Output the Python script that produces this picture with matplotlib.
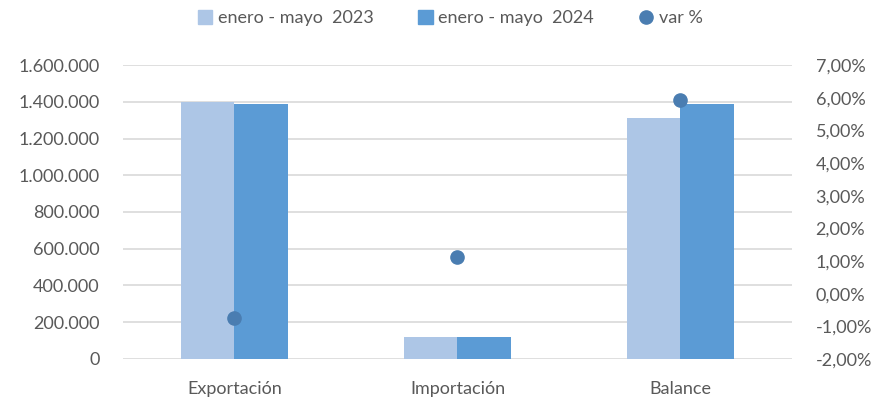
import matplotlib
matplotlib.use("Agg")
from matplotlib import pyplot as plt
from matplotlib.ticker import FuncFormatter
from matplotlib.lines import Line2D
from matplotlib.patches import Patch
import numpy as np

categories = ["Exportación", "Importación", "Balance"]
valores_2023 = [1399000, 121000, 1310000]
valores_2024 = [1386000, 121000, 1386000]
var_pct = [-0.75, 1.11, 5.93]

color_2023 = "#adc6e6"
color_2024 = "#5b9bd5"
color_var = "#4a7db1"
text_color = "#595959"

plt.rcParams["font.family"] = ["Lato", "DejaVu Sans"]

fig = plt.figure(figsize=(8.76, 4.03), dpi=100)
ax = fig.add_axes([0.1404, 0.1092, 0.7636, 0.7295])
ax2 = ax.twinx()

x = np.arange(len(categories))
w = 0.24
ax.bar(x - w / 2, valores_2023, w, color=color_2023, zorder=2)
ax.bar(x + w / 2, valores_2024, w, color=color_2024, zorder=2)

ax.set_ylim(0, 1600000)
ax.set_yticks(np.arange(0, 1600001, 200000))
ax.yaxis.set_major_formatter(FuncFormatter(lambda v, p: f"{int(v):,}".replace(",", ".")))
ax.grid(axis="y", color="#d9d9d9", linewidth=1.2, zorder=0)
ax.set_axisbelow(True)
ax.set_xlim(-0.5, 2.5)
ax.set_xticks(x)
ax.set_xticklabels(categories)

ax2.plot(x, var_pct, "o", color=color_var, markersize=9.5, zorder=5)
ax2.set_ylim(-2, 7)
ax2.set_yticks(np.arange(-2, 7.01, 1))
ax2.yaxis.set_major_formatter(FuncFormatter(lambda v, p: f"{v:.2f}%".replace(".", ",")))
ax.set_zorder(1)
ax2.set_zorder(2)
ax.patch.set_visible(False)

for a in (ax, ax2):
    for s in a.spines.values():
        s.set_visible(False)
    a.tick_params(length=0, labelsize=13, colors=text_color)
ax.tick_params(axis="y", pad=17)
ax2.tick_params(axis="y", pad=17)
ax.tick_params(axis="x", pad=16)

handles = [
    Patch(color=color_2023, label="enero - mayo  2023"),
    Patch(color=color_2024, label="enero - mayo  2024"),
    Line2D([], [], marker="o", linestyle="", color=color_var, markersize=9.5, label="var %"),
]
leg = fig.legend(handles=handles, loc="upper center", bbox_to_anchor=(0.514, 1.015), ncol=3,
                 frameon=False, fontsize=13, handlelength=0.8, handleheight=0.8,
                 handletextpad=0.3, columnspacing=2.5)
for t in leg.get_texts():
    t.set_color(text_color)

fig.savefig("out.png", dpi=100)
